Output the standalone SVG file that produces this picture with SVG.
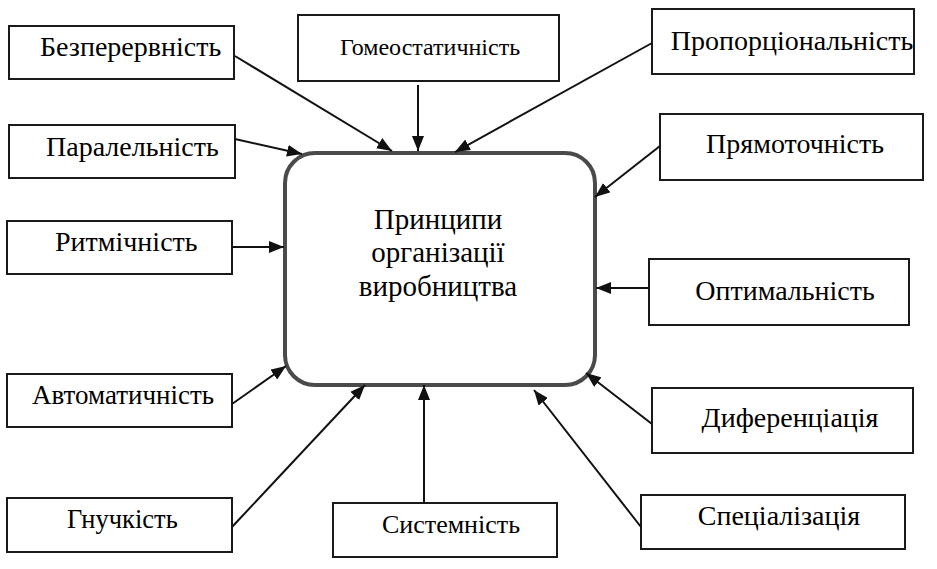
<svg xmlns="http://www.w3.org/2000/svg" width="937" height="569" viewBox="0 0 937 569">
<defs>
<style>
.box{fill:#fff;stroke:#1a1a1a;stroke-width:2}
.main{fill:#fff;stroke:#4a4a4a;stroke-width:4}
.edge{stroke:#111;stroke-width:2;fill:none;marker-end:url(#ah)}
</style>
<marker id="ah" markerUnits="userSpaceOnUse" markerWidth="16" markerHeight="12" refX="15" refY="6" orient="auto">
<path d="M0,0 L15,6 L0,12 Z" fill="#111"/>
</marker>
</defs>
<rect width="937" height="569" fill="#fff"/>
<g id="n-center">
<rect class="main" x="285" y="153" width="310" height="232" rx="30" ry="30"/>
<text x="438" y="229" font-family="Liberation Serif" font-size="29" fill="#000" text-anchor="middle">Принципи</text>
<text x="438" y="262" font-family="Liberation Serif" font-size="29" fill="#000" text-anchor="middle">організації</text>
<text x="438" y="296" font-family="Liberation Serif" font-size="29" fill="#000" text-anchor="middle">виробництва</text>
</g>
<g id="n-bezperervnist"><rect class="box" x="9" y="26" width="225" height="53"/><text x="40" y="56" font-family="Liberation Serif" font-size="28" fill="#000">Безперервність</text></g>
<g id="n-homeostatychnist"><rect class="box" x="298" y="15" width="261" height="66"/><text x="430" y="55" font-family="Liberation Serif" font-size="24" fill="#000" text-anchor="middle">Гомеостатичність</text></g>
<g id="n-proportsionalnist"><rect class="box" x="652" y="9" width="262" height="65"/><text x="792" y="50" font-family="Liberation Serif" font-size="28" fill="#000" text-anchor="middle">Пропорціональність</text></g>
<g id="n-paralelnist"><rect class="box" x="9" y="125" width="226" height="53"/><text x="46" y="156" font-family="Liberation Serif" font-size="28" fill="#000">Паралельність</text></g>
<g id="n-priamotochnist"><rect class="box" x="660" y="114" width="263" height="66"/><text x="795" y="153" font-family="Liberation Serif" font-size="28" fill="#000" text-anchor="middle">Прямоточність</text></g>
<g id="n-rytmichnist"><rect class="box" x="7" y="221" width="225" height="53"/><text x="55" y="251" font-family="Liberation Serif" font-size="28" fill="#000">Ритмічність</text></g>
<g id="n-optymalnist"><rect class="box" x="649" y="259" width="260" height="66"/><text x="785" y="300" font-family="Liberation Serif" font-size="28" fill="#000" text-anchor="middle">Оптимальність</text></g>
<g id="n-avtomatychnist"><rect class="box" x="7" y="374" width="225" height="53"/><text x="32" y="404" font-family="Liberation Serif" font-size="27" fill="#000">Автоматичність</text></g>
<g id="n-dyferentsiatsiia"><rect class="box" x="652" y="388" width="261" height="65"/><text x="790" y="427" font-family="Liberation Serif" font-size="28" fill="#000" text-anchor="middle">Диференціація</text></g>
<g id="n-hnuchkist"><rect class="box" x="7" y="498" width="225" height="54"/><text x="67" y="528" font-family="Liberation Serif" font-size="26.5" fill="#000">Гнучкість</text></g>
<g id="n-systemnist"><rect class="box" x="333" y="503" width="224" height="54"/><text x="451" y="533" font-family="Liberation Serif" font-size="26" fill="#000" text-anchor="middle">Системність</text></g>
<g id="n-spetsializatsiia"><rect class="box" x="641" y="495" width="264" height="54"/><text x="779" y="525" font-family="Liberation Serif" font-size="28" fill="#000" text-anchor="middle">Спеціалізація</text></g>
<g id="connectors">
<line class="edge" x1="235" y1="56" x2="392" y2="151"/>
<line class="edge" x1="418" y1="85" x2="418" y2="151"/>
<line class="edge" x1="652" y1="43" x2="455" y2="152"/>
<line class="edge" x1="235" y1="139" x2="302" y2="154"/>
<line class="edge" x1="660" y1="146" x2="595" y2="197"/>
<line class="edge" x1="232" y1="247" x2="284" y2="247"/>
<line class="edge" x1="649" y1="288" x2="596" y2="288"/>
<line class="edge" x1="232" y1="404" x2="286" y2="366"/>
<line class="edge" x1="652" y1="424" x2="586" y2="373"/>
<line class="edge" x1="232" y1="527" x2="365" y2="385"/>
<line class="edge" x1="424" y1="503" x2="424" y2="385"/>
<line class="edge" x1="641" y1="527" x2="534" y2="390"/>
</g>
</svg>
